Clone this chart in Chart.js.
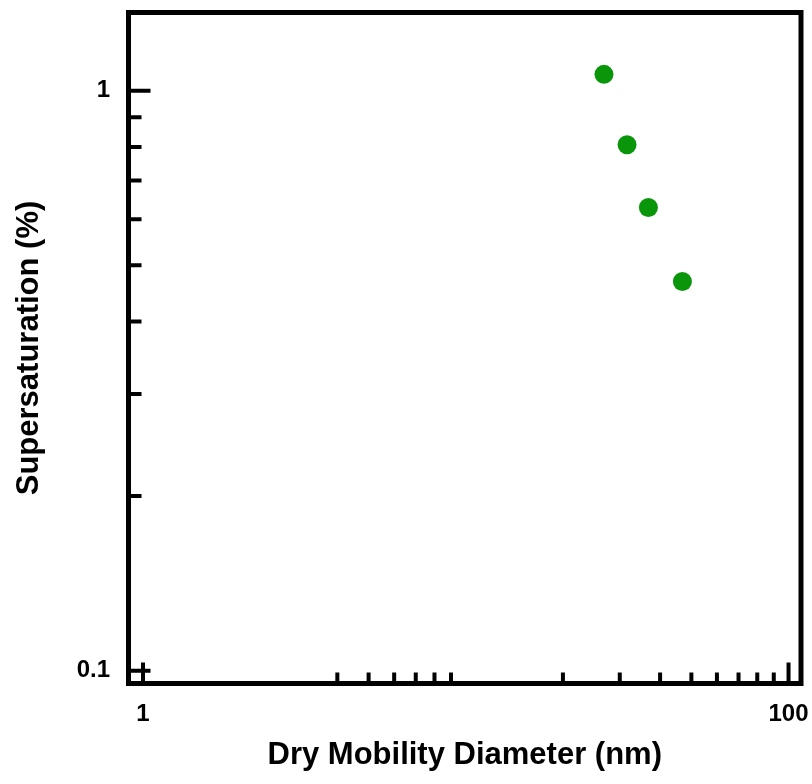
<!DOCTYPE html>
<html>
<head>
<meta charset="utf-8">
<script src="https://cdn.jsdelivr.net/npm/chart.js@4"></script>
<style>
  html, body { margin: 0; padding: 0; background: #fff; }
  #wrap { width: 812px; height: 784px; }
</style>
</head>
<body>
<div id="wrap"><canvas id="chart" width="812" height="784"></canvas></div>
<script>
// data
const diameters = [26.8, 31.6, 36.8, 46.9];
const supersat = [1.067, 0.807, 0.629, 0.469];

const xLabelTicks = [1, 100];
const xMinorTicks = [4, 5, 6, 7, 8, 9, 20, 30, 40, 50, 60, 70, 80, 90];
const yLabelTicks = [0.1, 1];
const yMinorTicks = [0.2, 0.3, 0.4, 0.5, 0.6, 0.7, 0.8, 0.9];

const fontFamily = "'Liberation Sans', Arial, sans-serif";

function noPadding(s) {
  s.paddingTop = 0;
  s.paddingBottom = 0;
  s.paddingLeft = 0;
  s.paddingRight = 0;
}

// box frame + inward tick marks
const frameTicks = {
  id: "frameTicks",
  afterDraw(chart) {
    const ctx = chart.ctx;
    const { left, right, top, bottom } = chart.chartArea;
    const xs = chart.scales.x;
    const ys = chart.scales.y;
    ctx.save();
    ctx.strokeStyle = "#000";
    ctx.lineWidth = 4;
    ctx.lineCap = "butt";
    ctx.beginPath();
    xMinorTicks.forEach((v) => {
      const px = xs.getPixelForValue(v);
      ctx.moveTo(px, bottom);
      ctx.lineTo(px, bottom - 11);
    });
    xLabelTicks.forEach((v) => {
      const px = xs.getPixelForValue(v);
      ctx.moveTo(px, bottom);
      ctx.lineTo(px, bottom - 21);
    });
    yMinorTicks.forEach((v) => {
      const py = ys.getPixelForValue(v);
      ctx.moveTo(left, py);
      ctx.lineTo(left + 13, py);
    });
    yLabelTicks.forEach((v) => {
      const py = ys.getPixelForValue(v);
      ctx.moveTo(left, py);
      ctx.lineTo(left + 22, py);
    });
    ctx.stroke();
    ctx.lineWidth = 5;
    ctx.lineJoin = "miter";
    ctx.strokeRect(left, top, right - left, bottom - top);
    ctx.restore();
  }
};

new Chart(document.getElementById("chart"), {
  type: "scatter",
  data: {
    datasets: [{
      data: diameters.map((d, i) => ({ x: d, y: supersat[i] })),
      backgroundColor: "#0a960a",
      borderColor: "#0a960a",
      pointRadius: 9.5,
      pointHoverRadius: 9.5,
      borderWidth: 0
    }]
  },
  options: {
    responsive: false,
    animation: false,
    layout: { padding: { left: 0, right: 11, top: 12.5, bottom: 0 } },
    plugins: { legend: { display: false }, tooltip: { enabled: false } },
    scales: {
      x: {
        type: "logarithmic",
        min: 0.9017,
        max: 109.3,
        afterBuildTicks: (s) => { s.ticks = xLabelTicks.map((v) => ({ value: v })); },
        afterFit: (s) => { s.height = 100.5; noPadding(s); },
        grid: { display: false, drawTicks: false },
        border: { display: false },
        ticks: {
          autoSkip: false,
          maxRotation: 0,
          padding: 16,
          color: "#000",
          font: { family: fontFamily, size: 24, weight: "bold" },
          callback: (v) => String(v)
        },
        title: {
          display: true,
          text: "Dry Mobility Diameter (nm)",
          color: "#000",
          padding: { top: 0, bottom: 10 },
          font: { family: fontFamily, size: 31, weight: "bold" }
        }
      },
      y: {
        type: "logarithmic",
        min: 0.09504,
        max: 1.364,
        afterBuildTicks: (s) => { s.ticks = yLabelTicks.map((v) => ({ value: v })); },
        afterFit: (s) => { s.width = 128.5; noPadding(s); },
        grid: { display: false, drawTicks: false },
        border: { display: false },
        ticks: {
          autoSkip: false,
          padding: 18.5,
          color: "#000",
          font: { family: fontFamily, size: 24, weight: "bold" },
          callback: (v) => String(v)
        },
        title: {
          display: true,
          text: "Supersaturation (%)",
          color: "#000",
          padding: { top: 11, bottom: 0 },
          font: { family: fontFamily, size: 31, weight: "bold" }
        }
      }
    }
  },
  plugins: [frameTicks]
});
</script>
</body>
</html>
